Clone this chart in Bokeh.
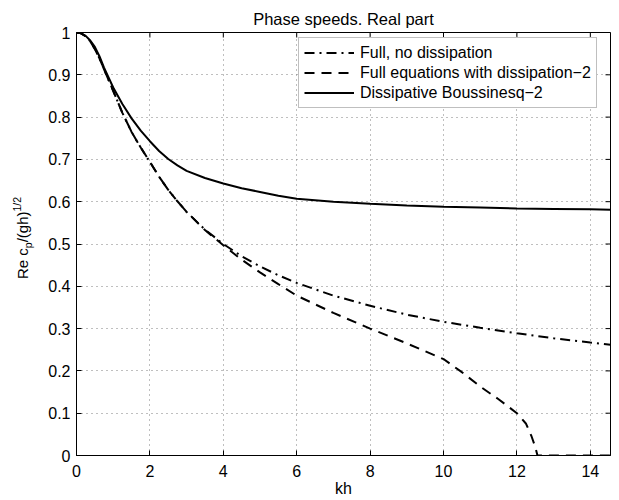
import math
from bokeh.plotting import figure
from bokeh.layouts import row
from bokeh.models import Range1d, Legend, LegendItem, FixedTicker, Div
from bokeh.embed import file_html
from bokeh.resources import INLINE

# ---- data ----
kh = [0, 0.125, 0.25, 0.375, 0.5, 0.625, 0.75, 1.0, 1.25, 1.5, 1.75, 2.0,
      2.25, 2.5, 2.75, 3.0, 3.5, 4.0, 4.5, 5.0, 5.5, 6.0, 7.0, 8.0, 9.0,
      10.0, 11.0, 12.0, 13.0, 14.0, 14.55]
full_no_diss = [1.0, 0.998, 0.991, 0.979, 0.961, 0.939, 0.913, 0.862, 0.810,
                0.765, 0.728, 0.694, 0.659, 0.628, 0.601, 0.576, 0.534, 0.500,
                0.471, 0.447, 0.426, 0.408, 0.378, 0.354, 0.333, 0.316, 0.302,
                0.289, 0.277, 0.267, 0.262]
bouss_diss = [1.0, 0.998, 0.992, 0.981, 0.966, 0.944, 0.917, 0.870, 0.831,
              0.797, 0.768, 0.743, 0.720, 0.701, 0.686, 0.673, 0.656, 0.643,
              0.632, 0.623, 0.614, 0.607, 0.600, 0.595, 0.591, 0.588, 0.586,
              0.584, 0.583, 0.582, 0.581]
kh_diss = [0, 0.125, 0.25, 0.375, 0.5, 0.625, 0.75, 1.0, 1.25, 1.5, 1.75,
           2.0, 2.25, 2.5, 2.75, 3.0, 3.5, 4.0, 4.5, 5.0, 5.5, 6.0, 7.0, 8.0,
           9.0, 10.0, 10.5, 11.0, 11.5, 12.0, 12.25, 12.4, 12.5, 12.56, 13.0,
           14.0, 14.55]
full_diss = [1.0, 0.998, 0.991, 0.979, 0.961, 0.939, 0.913, 0.862, 0.810,
             0.765, 0.728, 0.694, 0.659, 0.628, 0.601, 0.576, 0.533, 0.497,
             0.463, 0.433, 0.405, 0.378, 0.337, 0.300, 0.265, 0.228, 0.197,
             0.163, 0.133, 0.100, 0.075, 0.045, 0.020, 0.0, 0.0, 0.0, 0.0]

x_ticks = [0, 2, 4, 6, 8, 10, 12, 14]
y_ticks = [0, 0.1, 0.2, 0.3, 0.4, 0.5, 0.6, 0.7, 0.8, 0.9, 1]
legend_labels = ["Full, no dissipation",
                 "Full equations with dissipation\u22122",
                 "Dissipative Boussinesq\u22122"]
title_text = "Phase speeds. Real part"
x_label = "kh"
y_label_main1, y_label_sub, y_label_main2, y_label_sup = \
    "Re c", "p", "/(gh)", "1/2"

FONT = "Liberation Sans"
X_END = 14.55
Y_END = 1.0
LAB_W = 44

# ---- rotated y-axis label as real HTML text (rotated by CSS) ----
ylabel_html = (
    '<div style="position:relative;width:%dpx;height:500px;">'
    '<div style="position:absolute;left:14px;top:279px;'
    'transform:rotate(-90deg);transform-origin:0 0;white-space:nowrap;'
    "font-family:'Liberation Sans',Arial,sans-serif;font-size:15px;"
    'line-height:17px;color:#000;">'
    '%s<span style="font-size:10.5px;position:relative;top:4px;">%s</span>'
    '%s<span style="font-size:10.5px;position:relative;top:-7px;">%s</span>'
    '</div></div>'
) % (LAB_W, y_label_main1, y_label_sub, y_label_main2, y_label_sup)
ylab = Div(text=ylabel_html, width=LAB_W, height=500, margin=(0, 0, 0, 0))

# ---- main plot ----
p = figure(width=619 - LAB_W, height=500, output_backend="svg",
           toolbar_location=None,
           x_range=Range1d(0, X_END), y_range=Range1d(0, Y_END),
           min_border_left=76 - LAB_W, min_border_right=9,
           min_border_top=32, min_border_bottom=45)
p.background_fill_color = "white"
p.border_fill_color = "white"
p.outline_line_color = "black"
p.outline_line_width = 1

p.title.text = title_text
p.title.align = "center"
p.title.offset = 7
p.title.text_font = FONT
p.title.text_font_size = "16.5px"
p.title.text_font_style = "normal"
p.title.text_color = "black"

for ax in (p.xaxis[0], p.yaxis[0]):
    ax.major_tick_in = 5
    ax.major_tick_out = 0
    ax.minor_tick_in = 0
    ax.minor_tick_out = 0
    ax.axis_line_color = "black"
    ax.major_tick_line_color = "black"
    ax.major_label_text_font = FONT
    ax.major_label_text_font_size = "16px"
    ax.major_label_text_color = "black"
    ax.axis_label_text_font = FONT
    ax.axis_label_text_font_size = "16px"
    ax.axis_label_text_font_style = "normal"
    ax.axis_label_text_color = "black"

p.xaxis.ticker = FixedTicker(ticks=x_ticks)
p.yaxis.ticker = FixedTicker(ticks=y_ticks)
p.yaxis.major_label_overrides = {0: "0", 1: "1"}
p.xaxis.major_label_standoff = 9
p.yaxis.major_label_standoff = 6
p.xaxis.axis_label = x_label
p.xaxis.axis_label_standoff = 0

p.xgrid.ticker = FixedTicker(ticks=x_ticks)
p.ygrid.ticker = FixedTicker(ticks=y_ticks)
for g in (p.xgrid[0], p.ygrid[0]):
    g.grid_line_color = "#7f7f7f"
    g.grid_line_dash = "1 4"
    g.grid_line_width = 1

# inward tick marks on top and right edges (half of each dash is clipped)
p.scatter(x_ticks, [Y_END] * len(x_ticks), marker="dash", size=10,
          angle=math.pi / 2, line_color="black", line_width=1)
p.scatter([X_END] * len(y_ticks), y_ticks, marker="dash", size=10,
          line_color="black", line_width=1)

r1 = p.line(kh, full_no_diss, line_color="black", line_width=2,
            line_dash="10 5 2 5")
r2 = p.line(kh_diss, full_diss, line_color="black", line_width=2,
            line_dash="10 7")
r3 = p.line(kh, bouss_diss, line_color="black", line_width=2)

legend = Legend(items=[LegendItem(label=legend_labels[0], renderers=[r1]),
                       LegendItem(label=legend_labels[1], renderers=[r2]),
                       LegendItem(label=legend_labels[2], renderers=[r3])],
                location=(222, 347), padding=5, spacing=1, margin=0,
                label_height=19, glyph_height=19, glyph_width=50,
                label_standoff=6, border_line_color="#808080",
                border_line_width=1, background_fill_color="white",
                background_fill_alpha=1, label_text_font=FONT,
                label_text_font_size="16px", label_text_color="black")
p.add_layout(legend)

layout = row(ylab, p, spacing=0)
open("out.html", "w").write(file_html(layout, INLINE))
